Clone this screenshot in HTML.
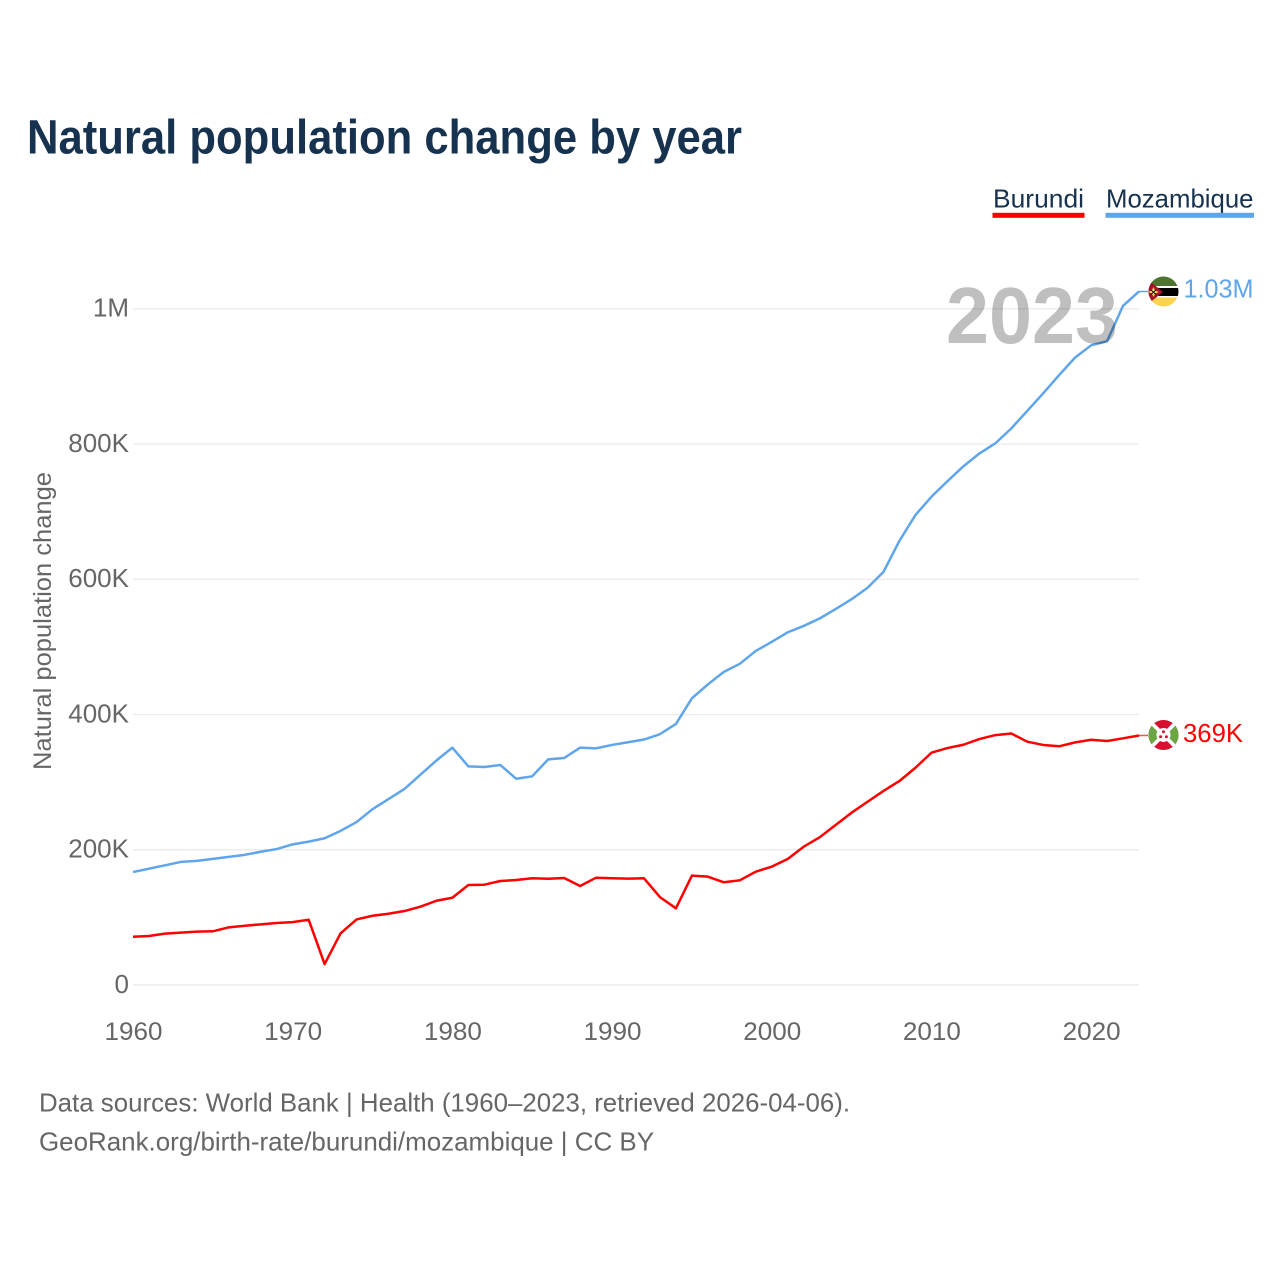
<!DOCTYPE html>
<html lang="en">
<head>
<meta charset="utf-8">
<title>Natural population change by year</title>
<style>
html,body{margin:0;padding:0;background:#fff;}
body{width:1280px;height:1280px;overflow:hidden;}
svg{display:block;font-family:"Liberation Sans",sans-serif;}
</style>
</head>
<body>
<svg id="chart" xmlns="http://www.w3.org/2000/svg" width="1280" height="1280" viewBox="0 0 1280 1280">
  <defs>
    <clipPath id="flag-clip"><circle cx="0" cy="0" r="15"/></clipPath>
  </defs>
  <rect x="0" y="0" width="1280" height="1280" fill="#fff"/>
  <text x="27" y="153.5" font-size="48" font-weight="700" fill="#16324f" textLength="715" lengthAdjust="spacingAndGlyphs">Natural population change by year</text>
  <g>
    <text x="993" y="207.5" font-size="26" fill="#16324f" textLength="91" lengthAdjust="spacingAndGlyphs">Burundi</text>
    <rect x="992.5" y="212.8" width="92" height="5" fill="#ff0000"/>
  </g>
  <g>
    <text x="1106" y="207.5" font-size="26" fill="#16324f" textLength="147.5" lengthAdjust="spacingAndGlyphs">Mozambique</text>
    <rect x="1105.5" y="212.8" width="148.5" height="5" fill="#5fa5ec"/>
  </g>
  <text transform="translate(51,621) rotate(-90)" text-anchor="middle" font-size="25" fill="#666" textLength="298" lengthAdjust="spacingAndGlyphs">Natural population change</text>
  <g id="grid"></g>
  <g id="y-ticks"></g>
  <g id="x-ticks"></g>
  <g id="series"></g>
  <text x="946" y="343" font-size="80" font-weight="700" fill="#000" fill-opacity="0.25" textLength="172" lengthAdjust="spacingAndGlyphs">2023</text>
  <g id="flag-mozambique">
    <g clip-path="url(#flag-clip)">
      <rect x="-16" y="-16" width="32" height="11" fill="#4c7530"/>
      <rect x="-16" y="-5.5" width="32" height="11" fill="#fff"/>
      <rect x="-16" y="-3.5" width="32" height="8" fill="#000"/>
      <rect x="-16" y="6" width="32" height="10" fill="#fcd34f"/>
      <polygon points="-16,-12 -0.5,0.5 -16,13" fill="#a5122a"/>
      <polygon points="-10,-4.5 -8.3,-1 -4.5,0.5 -8.3,2 -10,5.5 -11.7,2 -15.5,0.5 -11.7,-1" fill="#fcd34f"/>
      <path d="M-12.5,-1.5 L-7.5,3 M-7.5,-1.5 L-12.5,3" stroke="#111" stroke-width="1"/>
    </g>
  </g>
  <g id="flag-burundi">
    <g clip-path="url(#flag-clip)">
      <rect x="-16" y="-16" width="32" height="32" fill="#d6112f"/>
      <polygon points="-16,-16 0,0 -16,16" fill="#6ca644"/>
      <polygon points="16,-16 0,0 16,16" fill="#6ca644"/>
      <path d="M-16,-16 L16,16 M16,-16 L-16,16" stroke="#fff" stroke-width="3.6"/>
      <circle cx="0" cy="0" r="7" fill="#fff"/>
      <circle cx="0" cy="-3.2" r="1.5" fill="#d6112f"/>
      <circle cx="-2.9" cy="1.8" r="1.5" fill="#d6112f"/>
      <circle cx="2.9" cy="1.8" r="1.5" fill="#d6112f"/>
    </g>
  </g>
  <text x="39" y="1111.5" font-size="26" fill="#666" textLength="811" lengthAdjust="spacingAndGlyphs">Data sources: World Bank | Health (1960–2023, retrieved 2026-04-06).</text>
  <text x="39" y="1150.5" font-size="26" fill="#666" textLength="615" lengthAdjust="spacingAndGlyphs">GeoRank.org/birth-rate/burundi/mozambique | CC BY</text>
</svg>
<script>
// Values are in thousands of people.
const years = [1960,1961,1962,1963,1964,1965,1966,1967,1968,1969,1970,1971,1972,1973,1974,1975,1976,1977,1978,1979,1980,1981,1982,1983,1984,1985,1986,1987,1988,1989,1990,1991,1992,1993,1994,1995,1996,1997,1998,1999,2000,2001,2002,2003,2004,2005,2006,2007,2008,2009,2010,2011,2012,2013,2014,2015,2016,2017,2018,2019,2020,2021,2022,2023];
const mozambique = [167,172,177,182,183.5,186.5,189.5,192.5,197,201,208,212,217,228,241,260,275,290,311,332,351,323.4,322.4,325.4,305,308.6,333.7,335.7,351,350,355,359,363,371,386,424,444.5,463,475,494,507.5,521.5,531,542,556,570.5,587.5,611,657,695,722,745,767,786,801,823,849,875,902,928,946,952,1004.5,1025.6];
const burundi = [71.4,72.4,76,77.4,79,79.4,85.3,87.7,89.7,91.7,93,96.6,31,76.4,97,102.4,105.4,109.4,115.8,124.6,129,147.9,148.3,153.8,155.3,157.8,157.2,158.2,146.4,158.7,157.8,157.3,157.8,130,113.4,161.7,160.2,151.9,154.8,167.6,175,186.3,204.5,218.4,236.6,254.8,271,287,301.7,321.3,343.5,350.4,355.3,363.7,369.6,372,359.8,355,353,358.8,362.7,360.8,364.8,369];
const yTickValues = [0,200,400,600,800,1000];
const yTickLabels = ['0','200K','400K','600K','800K','1M'];
const xTickValues = [1960,1970,1980,1990,2000,2010,2020];
const xTickLabels = ['1960','1970','1980','1990','2000','2010','2020'];

const NS = 'http://www.w3.org/2000/svg';
function xScale(year){ return 133 + (year - 1960) * (1139 - 133) / (2023 - 1960); }
function yScale(v){ return 985 - v * 0.6762; }
function make(tag, attrs, parent, text){
  const el = document.createElementNS(NS, tag);
  for (const k in attrs) el.setAttribute(k, attrs[k]);
  if (text !== undefined) el.textContent = text;
  parent.appendChild(el);
  return el;
}
function fmt(v){ return v >= 1000 ? (v / 1000).toFixed(2) + 'M' : Math.round(v) + 'K'; }

const gridG = document.getElementById('grid');
const yG = document.getElementById('y-ticks');
const xG = document.getElementById('x-ticks');
const seriesG = document.getElementById('series');
const svg = document.getElementById('chart');

yTickValues.forEach(function(v, i){
  const line = make('line', {x1:133, x2:1139, y1:yScale(v), y2:yScale(v), stroke:'#ececec', 'stroke-width':1.4}, gridG);
  
  
  const t = make('text', {x:129, y:yScale(v) + 7.8, 'text-anchor':'end', 'font-size':26, fill:'#666'}, yG, yTickLabels[i]);
  
  
});
xTickValues.forEach(function(v, i){
  const t = make('text', {x:xScale(v) + 0.5, y:1040, 'text-anchor':'middle', 'font-size':25, fill:'#666', textLength:58, lengthAdjust:'spacingAndGlyphs'}, xG, xTickLabels[i]);
  
  
});

function pathFor(values){
  return values.map(function(v, i){ return (i ? 'L' : 'M') + xScale(years[i]).toFixed(2) + ',' + yScale(v).toFixed(2); }).join(' ');
}

const lineMoz = make('path', {d:pathFor(mozambique), fill:'none', stroke:'#5fa5ec', 'stroke-width':2.5, 'stroke-linejoin':'round'}, seriesG);


const lineBur = make('path', {d:pathFor(burundi), fill:'none', stroke:'#ff0000', 'stroke-width':2.5, 'stroke-linejoin':'round'}, seriesG);



const lastX = xScale(years[years.length - 1]);
const lastMoz = mozambique[mozambique.length - 1];
const lastBur = burundi[burundi.length - 1];

const leadMoz = make('line', {x1:lastX, x2:lastX + 9, y1:yScale(lastMoz), y2:yScale(lastMoz), stroke:'#5fa5ec', 'stroke-width':1.5}, seriesG);


const leadBur = make('line', {x1:lastX, x2:lastX + 9, y1:yScale(lastBur), y2:yScale(lastBur), stroke:'#ff0000', 'stroke-width':1.5, 'stroke-opacity':0.7}, seriesG);



document.getElementById('flag-mozambique').setAttribute('transform', 'translate(' + (lastX + 24.5) + ',' + yScale(lastMoz) + ')');
document.getElementById('flag-burundi').setAttribute('transform', 'translate(' + (lastX + 24.5) + ',' + (yScale(lastBur) - 0.5) + ')');

const endMoz = make('text', {x:lastX + 44.5, y:yScale(lastMoz) + 6, 'font-size':26, fill:'#5fa5ec', textLength:70, lengthAdjust:'spacingAndGlyphs'}, svg, fmt(lastMoz));


const endBur = make('text', {x:lastX + 44, y:yScale(lastBur) + 6.5, 'font-size':26, fill:'#ff0000', textLength:60, lengthAdjust:'spacingAndGlyphs'}, svg, fmt(lastBur));


</script>
</body>
</html>
